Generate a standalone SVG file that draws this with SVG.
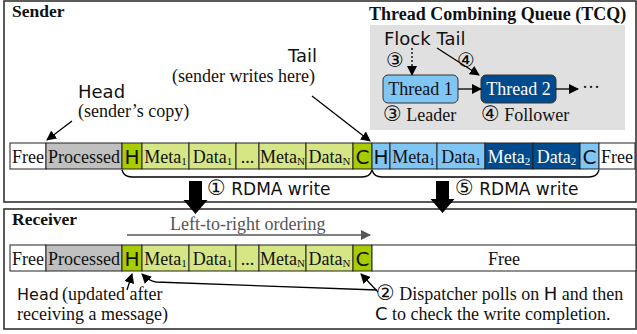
<svg xmlns="http://www.w3.org/2000/svg" width="637" height="334" viewBox="0 0 637 334">
<defs>
<marker id="ah" viewBox="0 0 10 10" refX="9" refY="5" markerWidth="10" markerHeight="10" markerUnits="userSpaceOnUse" orient="auto">
<path d="M0,0 L10,5 L0,10 z" fill="#000"/>
</marker>
<marker id="ahg" viewBox="0 0 10 10" refX="9" refY="5" markerWidth="10" markerHeight="10" markerUnits="userSpaceOnUse" orient="auto">
<path d="M0,0 L10,5 L0,10 z" fill="#555"/>
</marker>
<style>
.frame{fill:#fff;stroke:#333;stroke-width:1.6}
.cell{stroke:#222;stroke-width:1}
.free{fill:#fff}
.proc{fill:#c0c0c0}
.lg{fill:#d6e685}
.dg{fill:#a9cc00}
.lb{fill:#80c6f5}
.db{fill:#004b8d}
.serif{font-family:"Liberation Serif","Times New Roman",serif;font-size:18px;fill:#111}
.sans{font-family:"DejaVu Sans","Liberation Sans",sans-serif;fill:#111}
.hc{font-family:"DejaVu Sans","Liberation Sans",sans-serif;font-size:20px;fill:#111}
.bold{font-family:"Liberation Serif","Times New Roman",serif;font-weight:bold;font-size:17.5px;fill:#111}
.mid{text-anchor:middle}
.wt{fill:#fff}
.sub{font-size:11px}
.circ{font-family:"DejaVu Sans","Liberation Sans",sans-serif;font-size:21px}
.ln{fill:none;stroke:#000;stroke-width:1.3}
</style>
</defs>

<!-- Sender frame -->
<g id="sender">
<rect class="frame" x="4" y="1" width="632" height="201"/>
<text class="bold" x="12" y="17">Sender</text>
</g>

<!-- TCQ -->
<g id="tcq">
<rect x="370" y="25" width="255" height="105" fill="#e0e0e0"/>
<text class="bold" x="369" y="20" style="font-size:18px">Thread Combining Queue (TCQ)</text>
<text class="sans" x="384" y="45" font-size="18">Flock Tail</text>
<text class="circ" x="386" y="67" style="font-size:20px">③</text>
<text class="circ" x="457" y="67" style="font-size:20px">④</text>
</g>
<g id="thread1">
<rect x="383" y="75" width="75" height="28" rx="5" fill="#80c6f5" stroke="#333" stroke-width="1"/>
<text class="serif mid" x="420.5" y="95">Thread 1</text>
<text class="serif" x="383" y="121"><tspan class="circ">③</tspan> Leader</text>
</g>
<g id="thread2">
<rect x="481" y="75" width="75" height="28" rx="5" fill="#004b8d" stroke="#333" stroke-width="1"/>
<text class="serif mid wt" x="518.5" y="95">Thread 2</text>
<text class="serif" x="481" y="121"><tspan class="circ">④</tspan> Follower</text>
<text class="serif" x="582" y="93">···</text>
</g>

<!-- Sender labels -->
<g id="sender-labels">
<text class="sans" x="78" y="98" font-size="18">Head</text>
<text class="serif" x="78" y="117">(sender’s copy)</text>
<text class="sans" x="288" y="62" font-size="18">Tail</text>
<text class="serif" x="315" y="82" text-anchor="end">(sender writes here)</text>
</g>

<!-- Sender queue -->
<g id="sender-queue">
<rect class="cell free" x="10" y="143" width="36" height="26"/>
<rect class="cell proc" x="46" y="143" width="76" height="26"/>
<rect class="cell dg" x="122" y="143" width="20" height="26"/>
<rect class="cell lg" x="142" y="143" width="47" height="26"/>
<rect class="cell lg" x="189" y="143" width="47" height="26"/>
<rect class="cell lg" x="236" y="143" width="23" height="26"/>
<rect class="cell lg" x="259" y="143" width="47" height="26"/>
<rect class="cell lg" x="306" y="143" width="47" height="26"/>
<rect class="cell dg" x="353" y="143" width="19" height="26"/>
<rect class="cell lb" x="372" y="143" width="18" height="26"/>
<rect class="cell lb" x="390" y="143" width="47" height="26"/>
<rect class="cell lb" x="437" y="143" width="48" height="26"/>
<rect class="cell db" x="485" y="143" width="48" height="26"/>
<rect class="cell db" x="533" y="143" width="47" height="26"/>
<rect class="cell lb" x="580" y="143" width="19" height="26"/>
<rect class="cell free" x="599" y="143" width="36" height="26"/>
<text class="serif mid" x="28" y="163">Free</text>
<text class="serif mid" x="84" y="163">Processed</text>
<text class="hc mid" x="132" y="164">H</text>
<text class="serif mid" x="165.5" y="163">Meta<tspan class="sub" dy="2">1</tspan></text>
<text class="serif mid" x="212.5" y="163">Data<tspan class="sub" dy="2">1</tspan></text>
<text class="serif mid" x="247.5" y="163">...</text>
<text class="serif mid" x="282.5" y="163">Meta<tspan class="sub" dy="2">N</tspan></text>
<text class="serif mid" x="329.5" y="163">Data<tspan class="sub" dy="2">N</tspan></text>
<text class="hc mid" x="362.5" y="164">C</text>
<text class="hc mid" x="381" y="164">H</text>
<text class="serif mid" x="413.5" y="163">Meta<tspan class="sub" dy="2">1</tspan></text>
<text class="serif mid" x="461" y="163">Data<tspan class="sub" dy="2">1</tspan></text>
<text class="serif mid wt" x="509" y="163">Meta<tspan class="sub" dy="2">2</tspan></text>
<text class="serif mid wt" x="556.5" y="163">Data<tspan class="sub" dy="2">2</tspan></text>
<text class="hc mid" x="589.5" y="164">C</text>
<text class="serif mid" x="617" y="163">Free</text>
</g>

<!-- Receiver frame -->
<g id="receiver">
<rect class="frame" x="4" y="209" width="632" height="120"/>
<text class="bold" x="12" y="225">Receiver</text>
<text class="serif" x="170" y="230" style="fill:#555">Left-to-right ordering</text>
</g>

<!-- Receiver queue -->
<g id="receiver-queue">
<rect class="cell free" x="10" y="245" width="36" height="26"/>
<rect class="cell proc" x="46" y="245" width="76" height="26"/>
<rect class="cell dg" x="122" y="245" width="20" height="26"/>
<rect class="cell lg" x="142" y="245" width="47" height="26"/>
<rect class="cell lg" x="189" y="245" width="47" height="26"/>
<rect class="cell lg" x="236" y="245" width="23" height="26"/>
<rect class="cell lg" x="259" y="245" width="47" height="26"/>
<rect class="cell lg" x="306" y="245" width="47" height="26"/>
<rect class="cell dg" x="353" y="245" width="19" height="26"/>
<rect class="cell free" x="372" y="245" width="264" height="26"/>
<text class="serif mid" x="28" y="265">Free</text>
<text class="serif mid" x="84" y="265">Processed</text>
<text class="hc mid" x="132" y="266">H</text>
<text class="serif mid" x="165.5" y="265">Meta<tspan class="sub" dy="2">1</tspan></text>
<text class="serif mid" x="212.5" y="265">Data<tspan class="sub" dy="2">1</tspan></text>
<text class="serif mid" x="247.5" y="265">...</text>
<text class="serif mid" x="282.5" y="265">Meta<tspan class="sub" dy="2">N</tspan></text>
<text class="serif mid" x="329.5" y="265">Data<tspan class="sub" dy="2">N</tspan></text>
<text class="hc mid" x="362.5" y="266">C</text>
<text class="serif mid" x="504" y="265">Free</text>
</g>

<!-- Receiver labels -->
<g id="receiver-labels">
<text class="sans" x="17" y="300" font-size="16">Head</text>
<text class="serif" x="62" y="300">(updated after</text>
<text class="serif" x="17" y="320">receiving a message)</text>
<text class="serif" x="376" y="300"><tspan class="circ">②</tspan> Dispatcher polls on <tspan class="sans">H</tspan> and then</text>
<text class="serif" x="375" y="320"><tspan class="sans">C</tspan> to check the write completion.</text>
</g>

<!-- RDMA write labels -->
<g id="rdma-labels">
<text class="sans" x="207" y="195" font-size="17"><tspan class="circ">①</tspan> RDMA write</text>
<text class="sans" x="455" y="195" font-size="17"><tspan class="circ">⑤</tspan> RDMA write</text>
</g>

<!-- Connectors -->
<g id="connectors">
<line class="ln" x1="72" y1="121" x2="47" y2="140" marker-end="url(#ah)"/>
<line class="ln" x1="312" y1="96" x2="370" y2="141" marker-end="url(#ah)"/>
<line class="ln" x1="412" y1="48" x2="412" y2="75" stroke-dasharray="2,2" marker-end="url(#ah)"/>
<line class="ln" x1="437" y1="48" x2="479" y2="75" marker-end="url(#ah)"/>
<line class="ln" x1="458" y1="89" x2="481" y2="89" marker-end="url(#ah)"/>
<line class="ln" x1="556" y1="89" x2="578" y2="89" marker-end="url(#ah)"/>
<path class="ln" d="M122,170 Q124,177 132,177 L362,177 Q370,177 372,170"/>
<path class="ln" d="M372,170 Q374,177 382,177 L589,177 Q597,177 599,170"/>
<polygon points="189,181 202,181 202,200 207.5,200 195.5,214 183.5,200 189,200" fill="#000"/>
<polygon points="436,181 449,181 449,199 454.5,199 442.5,213 430.5,199 436,199" fill="#000"/>
<line x1="127" y1="235" x2="370" y2="235" stroke="#555" stroke-width="1.3" marker-end="url(#ahg)"/>
<line class="ln" x1="378" y1="292" x2="361" y2="274" marker-end="url(#ah)"/>
<path class="ln" d="M377,290 L156,282 Q149,281 142,274" marker-end="url(#ah)"/>
<line class="ln" x1="127" y1="290" x2="132" y2="274" marker-end="url(#ah)"/>
</g>
</svg>
